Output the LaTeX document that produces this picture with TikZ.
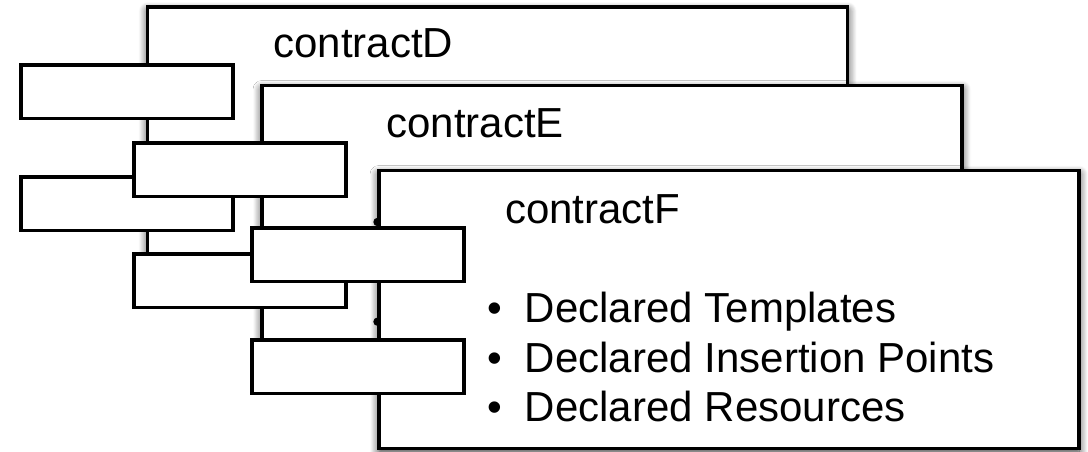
\documentclass[tikz,border=0pt]{standalone}
\usepackage{fontspec}
\setmainfont{Liberation Sans}
\usetikzlibrary{shadows.blur}
\begin{document}
\begin{tikzpicture}[x=1pt,y=-1pt,
  bigbox/.style={draw, line width=3.2pt, fill=white, rectangle, inner sep=0pt, outer sep=0pt,
    anchor=north west, minimum width=700pt, minimum height=278pt,
    blur shadow={shadow xshift=0pt, shadow yshift=-4pt, shadow blur radius=9pt,
      shadow blur steps=12, shadow opacity=80}},
  smallbox/.style={draw, line width=3.2pt, fill=white, rectangle, inner sep=0pt, outer sep=0pt,
    anchor=north west, minimum width=212pt, minimum height=53.5pt},
  lbl/.style={anchor=base west, inner sep=0pt, outer sep=0pt, font=\fontsize{42}{48}\selectfont},
  bul/.style={lbl},
]
\useasboundingbox (0,0) rectangle (1088,452);
% contract D
\node[bigbox] (D) at (147.7,7) {};
\node[lbl] (Dlabel) at (273.5,58) {contractD};
\node[smallbox] (D1) at (21,65) {};
\node[smallbox] (D2) at (21,177) {};
% contract E
\node[bigbox] (E) at (262,85.5) {};
\node[lbl] (Elabel) at (386.5,138) {contractE};
\node[smallbox] (E1) at (134,143) {};
\node[smallbox] (E2) at (134,254) {};
\fill (377.5,222) circle (4.2pt);
\fill (377.5,321.7) circle (4.2pt);
% contract F
\node[bigbox] (F) at (379,170.5) {};
\node[lbl] (Flabel) at (505,223) {contractF};
\node[smallbox] (F1) at (252,228) {};
\node[smallbox] (F2) at (252,340) {};
\node[bul] (Fi1) at (487.6,322.7) {\makebox[37.4pt][l]{•}Declared Templates};
\node[bul] (Fi2) at (487.6,372.5) {\makebox[37.4pt][l]{•}Declared Insertion Points};
\node[bul] (Fi3) at (487.6,421.7) {\makebox[37.4pt][l]{•}Declared Resources};
\end{tikzpicture}
\end{document}
